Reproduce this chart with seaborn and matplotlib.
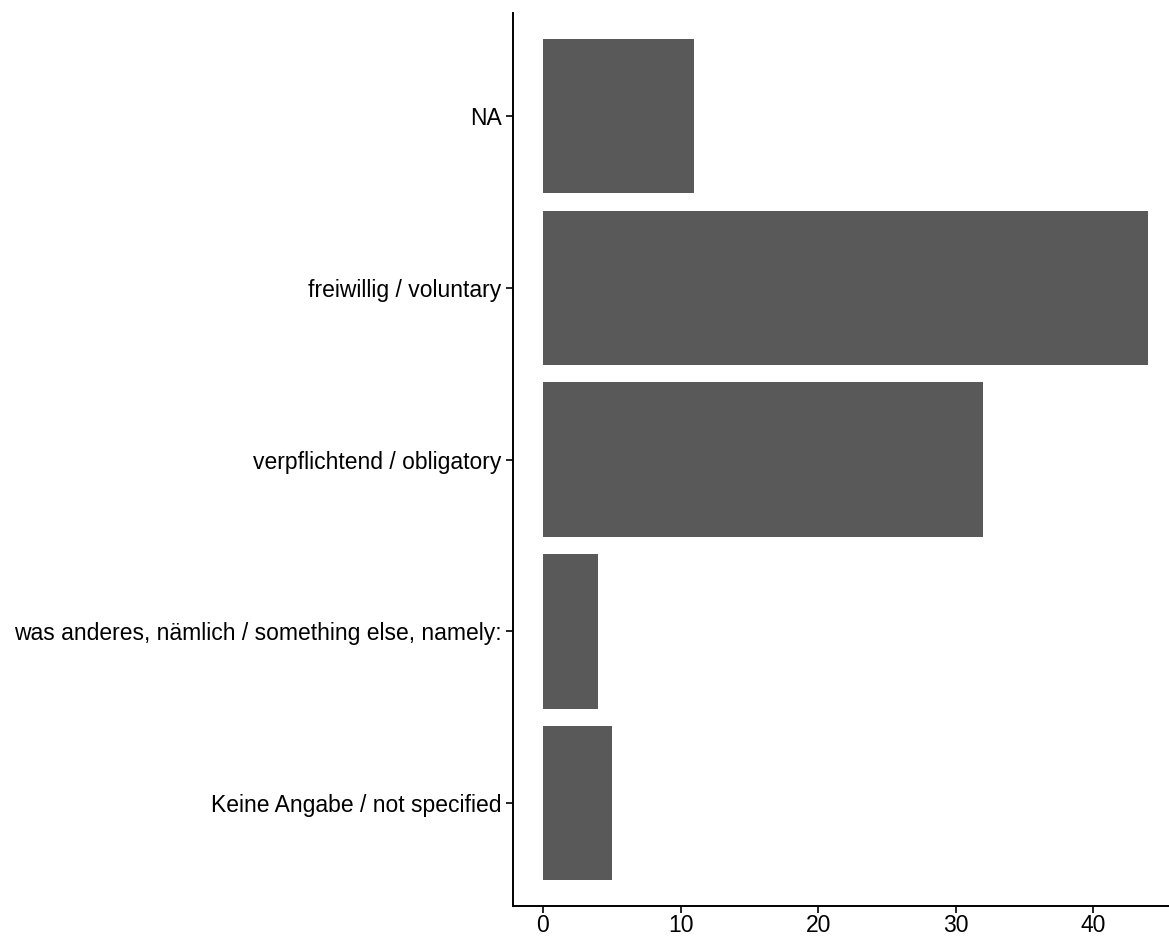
import matplotlib
matplotlib.use("Agg")
import matplotlib.pyplot as plt
import pandas as pd
import seaborn as sns

# ── Data ──────────────────────────────────────────────────────────────────────
categories = [
    "NA",
    "freiwillig / voluntary",
    "verpflichtend / obligatory",
    "was anderes, nämlich / something else, namely:",
    "Keine Angabe / not specified",
]
counts = [11, 44, 32, 4, 5]
x_ticks = [0, 10, 20, 30, 40]

df = pd.DataFrame({"category": categories, "count": counts})

# ── Style ─────────────────────────────────────────────────────────────────────
sns.set_style("white")
plt.rcParams["font.family"] = ["Liberation Sans", "DejaVu Sans"]

fig = plt.figure(figsize=(11.69, 9.39), dpi=100)
ax = fig.add_axes([0.4386, 0.035, 0.5614, 0.951])

sns.barplot(
    data=df, x="count", y="category", order=categories,
    orient="h", color="#595959", saturation=1, width=0.9,
    linewidth=0, edgecolor="none", ax=ax,
)

ax.set_xlim(-2.2, 45.5)
ax.set_ylim(4.6, -0.6)
ax.set_xticks(x_ticks)
ax.set_xlabel("")
ax.set_ylabel("")

for side in ["top", "right"]:
    ax.spines[side].set_visible(False)
for side in ["left", "bottom"]:
    ax.spines[side].set_color("black")
    ax.spines[side].set_linewidth(1.4)

ax.tick_params(axis="both", which="major", direction="out", length=5,
               width=1.2, color="black", labelsize=16.5, labelcolor="black",
               pad=3, left=True, bottom=True)
ax.tick_params(axis="x", pad=1)
ax.grid(False)

fig.savefig("out.png", dpi=100)
